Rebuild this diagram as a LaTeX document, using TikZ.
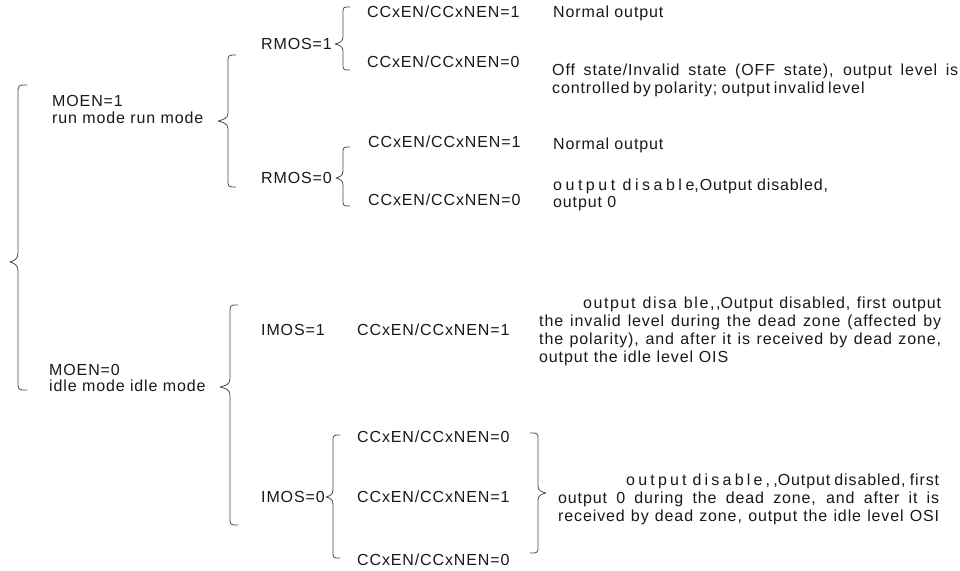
\documentclass[tikz,border=0pt]{standalone}
\usepackage{fontspec}
\setmainfont{Liberation Sans}[LetterSpace=5.5]
\newcommand\jl[2]{\makebox[#1pt][s]{#2}}
\newcommand\brc[8]{% curl x, vertical x, tip x, top, tip y, bottom, curl r, tip r
  \draw[brc] (#1,#4) .. controls (#2,#4) .. (#2,#4+#7) -- (#2,#5-#8)
    .. controls (#2,#5-0.3*#8) and (#2*0.5+#3*0.5,#5-0.15*#8) .. (#3,#5)
    .. controls (#2*0.5+#3*0.5,#5+0.15*#8) and (#2,#5+0.3*#8) .. (#2,#5+#8)
    -- (#2,#6-#7) .. controls (#2,#6) .. (#1,#6);}
\begin{document}
\begin{tikzpicture}[x=1pt,y=-1pt,
  lbl/.style={anchor=base west,inner sep=0pt,font=\fontsize{16}{18}\selectfont,text=black!90},
  brc/.style={draw=black!70,line width=0.8pt,line cap=round,line join=round}]
\useasboundingbox[fill=white] (0,0) rectangle (960,570);
% braces
\brc{27}{18}{10}{85}{262}{390}{9}{9}
\brc{236}{228}{218}{55}{121}{187}{8}{8}
\brc{238}{230}{220}{305}{387}{525}{8}{8}
\brc{350}{343}{335}{7}{44}{70}{7}{7}
\brc{350}{343}{336}{147}{178}{206}{7}{7}
\brc{340}{333}{326}{435}{497}{558}{7}{7}
\brc{530}{538}{546}{433}{493}{553}{7}{7}
% level 1
\node[lbl] (moen1) at (52,106.5) {MOEN=1};
\node[lbl] (run) at (52,123) {run mode run mode};
\node[lbl] (moen0) at (49,375.5) {MOEN=0};
\node[lbl] (idle) at (49,391.5) {idle mode idle mode};
% level 2
\node[lbl] (rmos1) at (261,49.5) {RMOS=1};
\node[lbl] (rmos0) at (261,183.5) {RMOS=0};
\node[lbl] (imos1) at (261,335.5) {IMOS=1};
\node[lbl] (imos0) at (261,502.5) {IMOS=0};
% level 3
\node[lbl] (c11) at (367,17.5) {CCxEN/CCxNEN=1};
\node[lbl] (c10) at (367,67.5) {CCxEN/CCxNEN=0};
\node[lbl] (c01) at (368,147.5) {CCxEN/CCxNEN=1};
\node[lbl] (c00) at (368,205.5) {CCxEN/CCxNEN=0};
\node[lbl] (i11) at (357,335.5) {CCxEN/CCxNEN=1};
\node[lbl] (i00a) at (357,442.5) {CCxEN/CCxNEN=0};
\node[lbl] (i01) at (357,502.5) {CCxEN/CCxNEN=1};
\node[lbl] (i00b) at (357,565.5) {CCxEN/CCxNEN=0};
% results
\node[lbl] (r11) at (553,17.5) {Normal output};
\node[lbl] (r10a) at (552,75.5) {\jl{406}{Off state/Invalid state (OFF state), output level is}};
\node[lbl] (r10b) at (552,93.5) {\jl{300}{controlled by polarity; output invalid level}};
\node[lbl] (r01) at (553,149.5) {Normal output};
\node[lbl] (r00a) at (553,190.5) {\jl{275}{{\addfontfeature{LetterSpace=22}output disable},Output disabled,}};
\node[lbl] (r00b) at (553,207.5) {output 0};
\node[lbl] (i1a) at (583,308.5) {\jl{358}{{\addfontfeature{LetterSpace=10}output disa ble,{},}Output disabled, first output}};
\node[lbl] (i1b) at (539,326.5) {\jl{402}{the invalid level during the dead zone (affected by}};
\node[lbl] (i1c) at (539,344.5) {\jl{402}{the polarity), and after it is received by dead zone,}};
\node[lbl] (i1d) at (539,362.5) {\jl{189}{output the idle level OIS}};
\node[lbl] (i0a) at (626,485.5) {\jl{313}{{\addfontfeature{LetterSpace=20}output disable,{},}Output disabled, first}};
\node[lbl] (i0b) at (558,503.5) {\jl{381}{output 0 during the dead zone, and after it is}};
\node[lbl] (i0c) at (558,521.5) {\jl{381}{received by dead zone, output the idle level OSI}};
\end{tikzpicture}
\end{document}
